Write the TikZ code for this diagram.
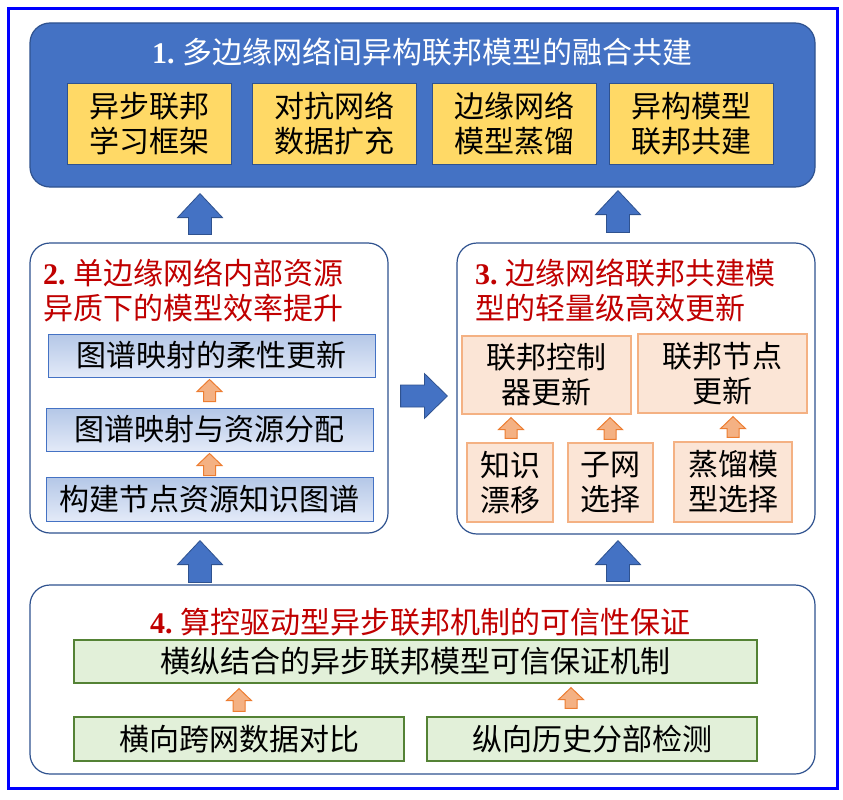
\documentclass[tikz,border=0pt]{standalone}
\usepackage{fontspec}
\setmainfont{Liberation Serif}
\newfontfamily\zhfont{Noto Sans CJK SC}
\usetikzlibrary{calc}

\definecolor{frameBlue}{RGB}{0,0,255}
\definecolor{blueFill}{HTML}{4472C4}
\definecolor{blueDark}{HTML}{2F528F}
\definecolor{yellowFill}{HTML}{FFD966}
\definecolor{peachFill}{HTML}{FBE5D6}
\definecolor{peachLine}{HTML}{F4B183}
\definecolor{orangeFill}{HTML}{F4B183}
\definecolor{orangeLine}{HTML}{ED7D31}
\definecolor{greenFill}{HTML}{E2F0D9}
\definecolor{greenLine}{HTML}{548235}
\definecolor{titleRed}{HTML}{C00000}
\definecolor{gradTop}{HTML}{B4C7E7}
\definecolor{gradBottom}{HTML}{E3EAF8}

\newcommand\txt{\zhfont\fontsize{30}{35}\selectfont}
\newcommand\num[1]{{\rmfamily\bfseries #1}\hspace{7.5pt}}

% upward block arrow: style, half shaft, half head, head length, base, tip
\newcommand\blockup[6]{%
  \path[#1] let \p1=#5, \p2=#6 in
    (\x1-#2,\y1) -- (\x1-#2,\y2-#4) -- (\x1-#3,\y2-#4) -- (\x1,\y2)
    -- (\x1+#3,\y2-#4) -- (\x1+#2,\y2-#4) -- (\x1+#2,\y1) -- cycle;}
% rightward block arrow: style, half shaft, half head, head length, base, tip
\newcommand\blockright[6]{%
  \path[#1] let \p1=#5, \p2=#6 in
    (\x1,\y1-#2) -- (\x2-#4,\y1-#2) -- (\x2-#4,\y1-#3) -- (\x2,\y1)
    -- (\x2-#4,\y1+#3) -- (\x2-#4,\y1+#2) -- (\x1,\y1+#2) -- cycle;}

\tikzset{
  groupbox/.style={draw=blueDark, line width=1.2pt, rounded corners=20pt, fill=white, inner sep=0pt},
  topgroup/.style={draw=blueDark, line width=1.2pt, rounded corners=20pt, fill=blueFill, inner sep=0pt},
  ybox/.style={draw=blueDark, line width=0.8pt, fill=yellowFill, align=center, inner sep=0pt, font=\txt},
  gbox/.style={draw=blueFill, line width=1pt, top color=gradTop, bottom color=gradBottom, align=center, inner sep=0pt, font=\txt},
  pbox/.style={draw=peachLine, line width=1.2pt, fill=peachFill, align=center, inner sep=0pt, font=\txt},
  vbox/.style={draw=greenLine, line width=1.2pt, fill=greenFill, align=center, inner sep=0pt, font=\txt},
  redtitle/.style={text=titleRed, font=\txt, inner sep=0pt},
  bigarrow/.style={fill=blueFill, draw=blueDark, line width=0.8pt},
  smallarrow/.style={fill=orangeFill, draw=orangeLine, line width=1pt},
}

\begin{document}
\begin{tikzpicture}[x=1pt, y=-1pt]
\useasboundingbox (0,0) rectangle (843,800);
\fill[white] (0,0) rectangle (843,800);

% outer frame
\draw[frameBlue, line width=3pt] (8,9) rectangle (837,788);

% group 1
\node[topgroup, minimum width=785, minimum height=164] (b1) at (422.5,105) {};
\node[text=white, font=\txt, inner sep=0pt] (t1) at (422,52)
  {\num{1.}多边缘网络间异构联邦模型的融合共建};
\node[ybox, minimum width=164, minimum height=81] (y1) at (149,123.5) {异步联邦\\学习框架};
\node[ybox, minimum width=164, minimum height=81] (y2) at (334,123.5) {对抗网络\\数据扩充};
\node[ybox, minimum width=164, minimum height=81] (y3) at (514,123.5) {边缘网络\\模型蒸馏};
\node[ybox, minimum width=164, minimum height=81] (y4) at (691.5,123.5) {异构模型\\联邦共建};

% group 2
\node[groupbox, minimum width=358, minimum height=290] (b2) at (209,388) {};
\node[redtitle, align=left, anchor=west] (t2) at (43,290)
  {\num{2.}单边缘网络内部资源\\异质下的模型效率提升};
\node[gbox, minimum width=327, minimum height=43] (g1) at (211.5,355.5) {图谱映射的柔性更新};
\node[gbox, minimum width=327, minimum height=43] (g2) at (209.5,429.5) {图谱映射与资源分配};
\node[gbox, minimum width=327, minimum height=44] (g3) at (209.5,499) {构建节点资源知识图谱};

% group 3
\node[groupbox, minimum width=358, minimum height=291] (b3) at (636,388.5) {};
\node[redtitle, align=left, anchor=west] (t3) at (475,290)
  {\num{3.}边缘网络联邦共建模\\型的轻量级高效更新};
\node[pbox, minimum width=169, minimum height=78] (p1) at (546.5,375) {联邦控制\\器更新};
\node[pbox, minimum width=169, minimum height=79] (p2) at (722.5,373.5) {联邦节点\\更新};
\node[pbox, minimum width=86, minimum height=79] (p3) at (510,482.5) {知识\\漂移};
\node[pbox, minimum width=85, minimum height=79] (p4) at (610.5,482.5) {子网\\选择};
\node[pbox, minimum width=118, minimum height=80] (p5) at (733,482) {蒸馏模\\型选择};

% group 4
\node[groupbox, minimum width=785, minimum height=189] (b4) at (422.5,679.5) {};
\node[redtitle] (t4) at (420,622) {\num{4.}算控驱动型异步联邦机制的可信性保证};
\node[vbox, minimum width=683, minimum height=43] (v1) at (415.5,661.5) {横纵结合的异步联邦模型可信保证机制};
\node[vbox, minimum width=330, minimum height=44] (v2) at (239,739) {横向跨网数据对比};
\node[vbox, minimum width=330, minimum height=44] (v3) at (592,739) {纵向历史分部检测};

% columns of the block arrows
\coordinate (colL) at (200,0);
\coordinate (colR) at (618,0);
\coordinate (colV1) at (239,0);
\coordinate (colV2) at (571,0);
\coordinate (colP1) at (511,0);
\coordinate (colP2) at (610,0);
\coordinate (colP3) at (733,0);

% blue arrows between the groups
\coordinate (a1s) at ($(b2.north -| colL)+(0,-8)$);
\coordinate (a1e) at ($(b1.south -| colL)+(0,6)$);
\coordinate (a2s) at ($(b3.north -| colR)+(0,-10)$);
\coordinate (a2e) at ($(b1.south -| colR)+(0,3)$);
\coordinate (a3s) at ($(b4.north -| colL)+(0,-2)$);
\coordinate (a3e) at ($(b2.south -| colL)+(0,7)$);
\coordinate (a4s) at ($(b4.north -| colR)+(0,-3)$);
\coordinate (a4e) at ($(b3.south -| colR)+(0,6)$);
\coordinate (a5s) at ($(b2.east)+(12,8)$);
\coordinate (a5e) at ($(b3.west)+(-9,8)$);
\blockup{bigarrow}{11.5pt}{22.5pt}{24pt}{(a1s)}{(a1e)}
\blockup{bigarrow}{11.5pt}{22.5pt}{24pt}{(a2s)}{(a2e)}
\blockup{bigarrow}{11.5pt}{22.5pt}{24pt}{(a3s)}{(a3e)}
\blockup{bigarrow}{11.5pt}{22.5pt}{24pt}{(a4s)}{(a4e)}
\blockright{bigarrow}{11pt}{22.5pt}{23pt}{(a5s)}{(a5e)}

% orange arrows inside group 2
\coordinate (o1s) at ($(g2.north)+(0,-6)$);
\coordinate (o1e) at ($(g1.south -| g2.north)+(0,2)$);
\coordinate (o2s) at ($(g3.north)+(0,-1)$);
\coordinate (o2e) at ($(g2.south)+(0,2)$);
\blockup{smallarrow}{6pt}{12.5pt}{12pt}{(o1s)}{(o1e)}
\blockup{smallarrow}{6pt}{12.5pt}{12pt}{(o2s)}{(o2e)}

% orange arrows inside group 3
\coordinate (o3s) at ($(p3.north -| colP1)+(0,-4)$);
\coordinate (o3e) at ($(p1.south -| colP1)+(0,3)$);
\coordinate (o4s) at ($(p4.north -| colP2)+(0,-3)$);
\coordinate (o4e) at ($(p1.south -| colP2)+(0,3)$);
\coordinate (o5s) at ($(p5.north -| colP3)+(0,-4)$);
\coordinate (o5e) at ($(p2.south -| colP3)+(0,3)$);
\blockup{smallarrow}{6pt}{12.5pt}{12pt}{(o3s)}{(o3e)}
\blockup{smallarrow}{6pt}{12.5pt}{12pt}{(o4s)}{(o4e)}
\blockup{smallarrow}{6pt}{12.5pt}{12pt}{(o5s)}{(o5e)}

% orange arrows inside group 4
\coordinate (o6s) at ($(v2.north -| colV1)+(0,-5)$);
\coordinate (o6e) at ($(v1.south -| colV1)+(0,5)$);
\coordinate (o7s) at ($(v3.north -| colV2)+(0,-8)$);
\coordinate (o7e) at ($(v1.south -| colV2)+(0,4)$);
\blockup{smallarrow}{6pt}{12.5pt}{12pt}{(o6s)}{(o6e)}
\blockup{smallarrow}{6pt}{12.5pt}{12pt}{(o7s)}{(o7e)}
\end{tikzpicture}
\end{document}
